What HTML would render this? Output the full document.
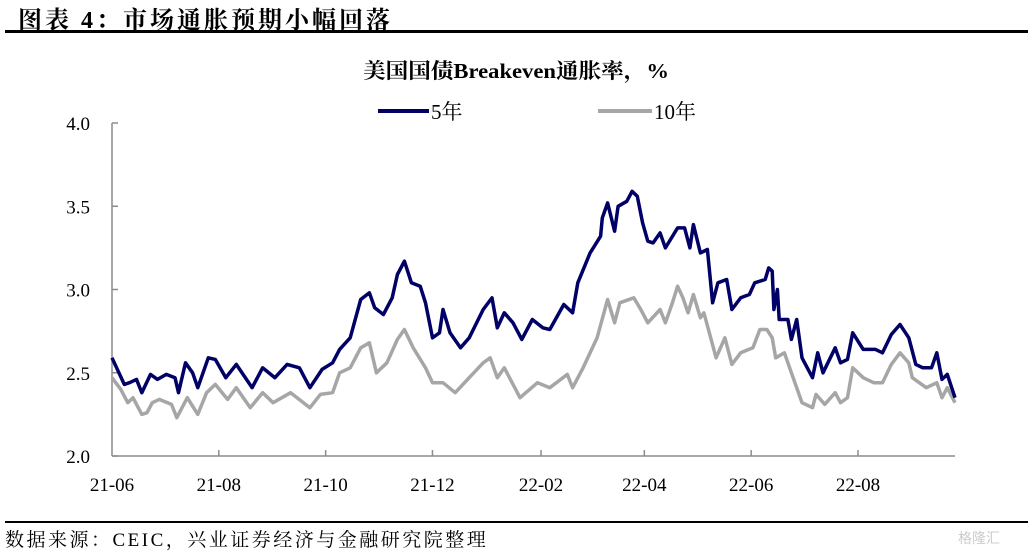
<!DOCTYPE html>
<html><head><meta charset="utf-8"><style>
body{margin:0;background:#fff;width:1028px;height:552px;overflow:hidden;position:relative;font-family:"Liberation Serif","Noto Serif CJK SC",serif}
.t{position:absolute;white-space:nowrap}
</style></head><body>
<div class="t" style="left:18px;top:0px;font-size:24px;font-weight:bold;letter-spacing:3px">图表 4：市场通胀预期小幅回落</div>
<div style="position:absolute;left:5px;top:30px;width:1023px;height:2.5px;background:#000"></div>
<div style="position:absolute;left:5px;top:521px;width:1023px;height:2px;background:#000"></div>
<div class="t" style="left:5px;top:525px;font-size:19px;letter-spacing:2.5px">数据来源：CEIC，兴业证券经济与金融研究院整理</div>
<div class="t" style="left:958px;top:528px;font-size:14px;color:#ccc;font-family:'Liberation Sans','Noto Sans CJK SC',sans-serif">格隆汇</div>
<svg id="c" width="1028" height="552" style="position:absolute;left:0;top:0"></svg>
<script>
const categories5=[0,7,10,14,17,22,26,31,36,38,42,46,49,55,59,65,71,80,86,93,100,107,113,120,126,130,136,142,147,150,155,160,163,167,171,176,179,183,187,189,193,199,204,212,217,220,224,229,234,240,246,250,258,263,266,273,279,280,283,287,289,294,297,300,303,306,309,313,316,323,327,330,332,336,340,343,346,351,354,359,364,367,373,375,377,378,380,381,386,388,391,394,400,403,406,413,416,420,423,429,436,440,445,450,455,459,463,468,471,474,477,483];
const values5=[2.59,2.43,2.44,2.46,2.38,2.49,2.46,2.49,2.47,2.38,2.56,2.50,2.41,2.59,2.58,2.47,2.55,2.41,2.53,2.47,2.55,2.53,2.41,2.52,2.56,2.64,2.71,2.94,2.98,2.89,2.85,2.95,3.09,3.17,3.04,3.02,2.92,2.71,2.74,2.88,2.74,2.65,2.71,2.88,2.95,2.77,2.86,2.80,2.70,2.82,2.77,2.76,2.91,2.86,3.04,3.22,3.32,3.43,3.52,3.35,3.50,3.53,3.59,3.56,3.40,3.29,3.28,3.34,3.25,3.37,3.37,3.25,3.39,3.22,3.24,2.92,3.04,3.06,2.88,2.95,2.97,3.04,3.06,3.13,3.11,2.88,3.00,2.82,2.82,2.70,2.82,2.59,2.47,2.62,2.50,2.65,2.56,2.58,2.74,2.64,2.64,2.62,2.73,2.79,2.71,2.55,2.53,2.53,2.62,2.46,2.49,2.35];
const categories10=[0,5,9,12,17,20,23,27,34,37,43,49,54,59,66,71,79,86,92,102,113,119,126,130,136,142,147,151,157,163,167,172,179,183,189,196,204,212,216,220,224,233,243,250,260,263,269,277,283,287,290,298,302,306,313,316,320,323,326,329,332,336,338,345,350,354,359,366,370,374,377,379,384,388,394,400,402,407,413,416,420,423,429,435,440,445,450,455,457,465,471,474,477,483];
const values10=[2.47,2.40,2.32,2.35,2.25,2.26,2.32,2.34,2.31,2.23,2.35,2.25,2.38,2.43,2.34,2.41,2.29,2.38,2.32,2.38,2.29,2.37,2.38,2.50,2.53,2.65,2.68,2.50,2.56,2.70,2.76,2.65,2.53,2.44,2.44,2.38,2.47,2.56,2.59,2.47,2.53,2.35,2.44,2.41,2.49,2.41,2.53,2.71,2.94,2.80,2.92,2.95,2.88,2.80,2.88,2.80,2.92,3.02,2.95,2.86,2.97,2.83,2.86,2.59,2.71,2.55,2.62,2.65,2.76,2.76,2.71,2.59,2.62,2.50,2.32,2.29,2.37,2.31,2.38,2.32,2.35,2.53,2.47,2.44,2.44,2.55,2.62,2.56,2.47,2.41,2.44,2.35,2.41,2.32];
const yTicks=[2.0,2.5,3.0,3.5,4.0];
const xTickDays=[0,61,122,183,245,304,365,426];
const xTickLabels=["21-06","21-08","21-10","21-12","22-02","22-04","22-06","22-08"];
const NS="http://www.w3.org/2000/svg";
const svg=document.getElementById('c');
const X0=112,X1=955,Y0=456,Y1=123,DMAX=481.4;
const x=d=>X0+(d/DMAX)*(X1-X0);
const y=v=>Y0-(v-2)/2*(Y0-Y1);
function mk(tag,attrs){const e=document.createElementNS(NS,tag);for(const k in attrs)e.setAttribute(k,attrs[k]);svg.appendChild(e);return e;}
const FF='Liberation Serif, Noto Serif CJK SC, serif';
let t=mk('text',{x:516,y:78,'text-anchor':'middle','font-size':21,'font-weight':'bold','font-family':FF,textLength:306,lengthAdjust:'spacingAndGlyphs'});t.textContent='美国国债Breakeven通胀率，%';


let l=mk('line',{x1:378,y1:111,x2:429,y2:111,stroke:'#000066','stroke-width':4});


t=mk('text',{x:431,y:119,'font-size':21,'font-family':FF});t.textContent='5年';


l=mk('line',{x1:598,y1:111,x2:652,y2:111,stroke:'#a6a6a6','stroke-width':4});


t=mk('text',{x:654,y:119,'font-size':21,'font-family':FF});t.textContent='10年';


l=mk('line',{x1:X0,y1:Y1,x2:X0,y2:Y0,stroke:'#8c8c8c','stroke-width':1.5});


l=mk('line',{x1:X0,y1:Y0,x2:X1,y2:Y0,stroke:'#8c8c8c','stroke-width':1.5});


yTicks.forEach(v=>{
 const tk=mk('line',{x1:X0,y1:y(v),x2:X0+6,y2:y(v),stroke:'#8c8c8c','stroke-width':1.5});
 
 
 const tx=mk('text',{x:X0-22,y:y(v)+7,'text-anchor':'end','font-size':19});tx.textContent=v.toFixed(1);
 
 
});
xTickDays.forEach((d,i)=>{
 if(i>0){const tk=mk('line',{x1:x(d),y1:Y0,x2:x(d),y2:Y0-6,stroke:'#8c8c8c','stroke-width':1.5});
 
 }
 const tx=mk('text',{x:x(d),y:Y0+35,'text-anchor':'middle','font-size':19});tx.textContent=xTickLabels[i];
 
 
});
function series(days,vals,color,name){
 const pts=days.map((d,i)=>Math.min(x(d),X1).toFixed(1)+','+y(vals[i]).toFixed(1)).join(' ');
 const p=mk('polyline',{points:pts,fill:'none',stroke:color,'stroke-width':3.5,'stroke-linejoin':'round'});
 
 
}
series(categories10,values10,'#a6a6a6','line-10y');
series(categories5,values5,'#000066','line-5y');
</script>
</body></html>
